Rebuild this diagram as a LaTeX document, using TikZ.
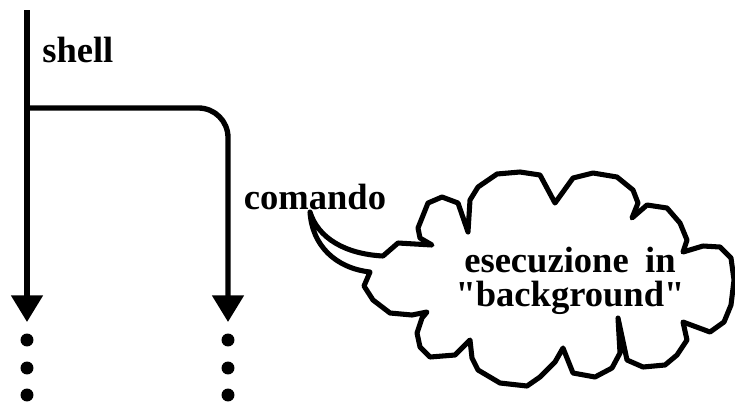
\documentclass[tikz,border=0pt]{standalone}
\usepackage{fontspec}
\newfontfamily\lblfam{Liberation Serif}
\usetikzlibrary{arrows.meta}
\newcommand\lblfont{\lblfam\fontsize{26}{24}\selectfont\bfseries}

\begin{document}
\begin{tikzpicture}[x=0.025cm,y=-0.025cm,>=Latex]
    \tikzset{
      flow/.style={line width=3.8pt,-{Triangle[width=22pt,length=19pt]}},
      lbl/.style={font=\lblfont,inner sep=0pt},
      bubble/.style={draw,fill=white,line width=3.6pt,line join=round}
    }
    \useasboundingbox (0,0) rectangle (735,403);
    \coordinate (top) at (27,10);
    \coordinate (fork) at (27,108);
    \coordinate (parentEnd) at (27,322);
    \coordinate (childEnd) at (228,322);
    \draw[flow] (top) -- (parentEnd);
    \draw[flow,rounded corners=21pt] (fork) -| (childEnd);
    \foreach \x in {27,228}
      \foreach \y in {340,368,395}
        \fill (\x,\y) circle[radius=4.6pt];
    \node[lbl,anchor=base west] (shell) at (42,62) {shell};
    \node[lbl,anchor=base] (cmd) at (315,209) {comando};
    \coordinate (tip) at (310,212);
    \draw[bubble] (tip) .. controls (318,238) and (345,254) .. (383,256)
      -- (398,243) -- (432,245) -- (420,238) -- (418,228) -- (428,203)
      -- (442,197) -- (458,203) -- (468,232) -- (470,200) -- (478,187)
      -- (497,174) -- (520,172) -- (540,175) -- (555,203) -- (573,178)
      -- (593,173) -- (617,177) -- (633,190) -- (638,203) -- (632,218)
      -- (647,205) -- (667,208) -- (680,223) -- (687,240) -- (683,252)
      -- (703,246) -- (720,247) -- (731,258) -- (734,280) -- (731,305)
      -- (724,322) -- (710,332) -- (683,322) -- (687,340) -- (677,355)
      -- (665,365) -- (643,367) -- (627,360) -- (618,318) -- (620,353)
      -- (612,368) -- (595,377) -- (573,373) -- (563,348) -- (555,362)
      -- (540,377) -- (527,386) -- (500,383) -- (478,370) -- (472,358)
      -- (470,340) -- (455,355) -- (430,357) -- (420,347) -- (417,333)
      -- (422,318) -- (427,312) -- (412,315) -- (390,313) -- (373,300)
      -- (364,286) -- (370,272) .. controls (335,268) and (312,245) .. (tip)
      -- cycle;
    \node[lbl,align=center] (bg) at (570,281) {esecuzione\hspace{0.45em}in\\"background"};
  \end{tikzpicture}
\end{document}
